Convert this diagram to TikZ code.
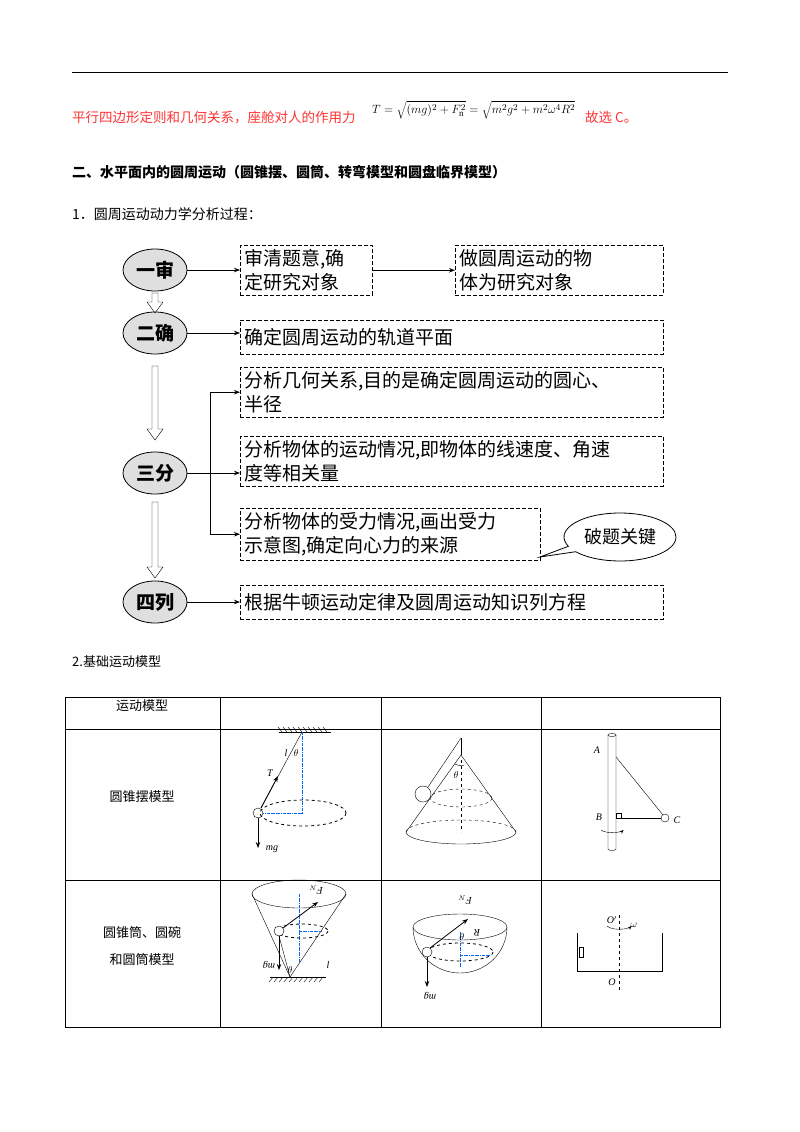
\documentclass[tikz,border=0pt]{standalone}
\usepackage{fontspec}
\setmainfont{Liberation Serif}
\newfontfamily\cjk{Noto Sans CJK SC}
\usetikzlibrary{arrows.meta,shapes.geometric,shapes.callouts}
\begin{document}
\begin{tikzpicture}[x=1pt,y=-1pt,
 dbox/.style={draw,dashed,thick,dash pattern=on 4pt off 2pt,align=left,anchor=north west,inner sep=4pt,font=\cjk\fontsize{19}{24}\selectfont,text width=#1},
 oval/.style={draw,thick,ellipse,fill=gray!25,minimum width=64,minimum height=42,font=\cjk\bfseries\fontsize{19}{22}\selectfont},
 arr/.style={-{Stealth[length=6pt]},thick},
 tt/.style={font=\cjk\fontsize{13}{15}\selectfont},
 ml/.style={font=\itshape\fontsize{10}{12}\selectfont},
 blu/.style={blue!60!cyan,densely dashdotted,thin}]
\useasboundingbox (0,0) rectangle (800,1132);
\draw[thick] (72,72) -- (728,72);
\node[anchor=west,text=red!80,font=\cjk\fontsize{13.5}{15}\selectfont,inner sep=0pt] (t1) at (72,117) {平行四边形定则和几何关系，座舱对人的作用力};
\node[anchor=west,font=\fontsize{13}{15}\selectfont,inner sep=0pt] (f) at (372,110) {$T=\sqrt{(mg)^2+F_{\rm n}^2}=\sqrt{m^2g^2+m^2\omega^4R^2}$};
\node[anchor=west,text=red!80,font=\cjk\fontsize{13.5}{15}\selectfont,inner sep=0pt] (t2) at (585,117) {故选 C。};
\node[anchor=west,font=\cjk\bfseries\fontsize{14}{16}\selectfont,inner sep=0pt] (h) at (72,172) {二、水平面内的圆周运动（圆锥摆、圆筒、转弯模型和圆盘临界模型）};
\node[anchor=west,font=\cjk\fontsize{14}{16}\selectfont,inner sep=0pt] (h1) at (72,214) {1．圆周运动动力学分析过程：};
% flowchart
\node[oval] (o1) at (155,270) {一审};
\node[oval] (o2) at (155,333) {二确};
\node[oval] (o3) at (155,473) {三分};
\node[oval] (o4) at (155,602) {四列};
\node[dbox=124] (b1) at (240,245) {审清题意,确\\定研究对象};
\node[dbox=200] (b2) at (455,245) {做圆周运动的物\\体为研究对象};
\node[dbox=415,minimum height=34] (b3) at (240,320) {确定圆周运动的轨道平面};
\node[dbox=415] (b4) at (240,367) {分析几何关系,目的是确定圆周运动的圆心、\\半径};
\node[dbox=415] (b5) at (240,436) {分析物体的运动情况,即物体的线速度、角速\\度等相关量};
\node[dbox=292] (b6) at (240,508) {分析物体的受力情况,画出受力\\示意图,确定向心力的来源};
\node[dbox=415,minimum height=34] (b7) at (240,585) {根据牛顿运动定律及圆周运动知识列方程};
\draw[arr] (o1) -- (o1 -| b1.west);
\draw[arr] (b1.east) -- (b1.east -| b2.west);
\draw[arr] (o2) -- (o2 -| b3.west);
\draw[arr] (o4) -- (o4 -| b7.west);
\coordinate (j) at (210,473);
\draw[thick] (o3) -- (j);
\draw[arr] (j) |- (b4.west);
\draw[arr] (j) -- (j -| b5.west);
\draw[arr] (j) |- (b6.west);
\foreach \a/\b in {293/313,366/440,502/578}
  \draw (152,\a) -- (152,\b-11) -- (147,\b-11) -- (155,\b) -- (163,\b-11) -- (158,\b-11) -- (158,\a) -- cycle;
\node[ellipse callout,draw,thick,fill=white,minimum width=112,minimum height=48,callout absolute pointer={(540,557)},font=\cjk\fontsize{18}{20}\selectfont] (c) at (620,537) {破题关键};
% table
\node[font=\cjk\fontsize{13}{15}\selectfont,anchor=west,inner sep=0pt] (h2) at (72,662) {2.基础运动模型};
\draw[thin] (65,697) rectangle (720,1027);
\foreach \x in {220,381,541} \draw[thin] (\x,697) -- (\x,1027);
\foreach \y in {729,880} \draw[thin] (65,\y) -- (720,\y);
\node[tt] (r0) at (142,706) {运动模型};
\node[tt] (r1) at (142,797) {圆锥摆模型};
\node[tt,align=center] (r2) at (142,946) {圆锥筒、圆碗\\[12pt]和圆筒模型};
% pendulum
\draw[thick] (279,732) -- (331,732);
\foreach \i in {0,...,9} \draw (282+5*\i,732) -- (278+5*\i,727);
\draw[blu] (302,732) -- (302,813) -- (263,813);
\draw[thick,dashed] (303,813) ellipse (43 and 13);
\draw (302,732) -- (261,808);
\draw[arr] (261,808) -- (278,776);
\draw (258,813) circle (5);
\draw[arr] (258,818) -- (258,848);
\node[ml] (ml1) at (272,849) {mg};
\node[ml] (l1) at (286,753) {l};
\node[ml] (th1) at (296,753) {$\theta$};
\node[ml] (T1) at (270,773) {T};
% cone
\draw (461,738) -- (461,755);
\draw (461,755) -- (406,832);
\draw (461,755) -- (516,832);
\draw (406,832) arc (180:0:55 and 12);
\draw[dashed] (406,832) arc (180:360:55 and 12);
\draw[dashed] (461,760) -- (461,832);
\draw[dashed] (461,798) ellipse (31 and 9);
\draw (461,738) -- (428,787);
\draw[fill=white] (423,794) circle (8);
\draw (455,764) arc (-235:-290:10);
\node[ml] (th2) at (456,775) {$\theta$};
% pole
\draw (608,735) -- (608,849) arc (180:0:4 and 1.5) -- (616,735);
\draw (612,735) ellipse (4 and 1.5);
\draw (616,757) -- (663,815);
\draw (616,818) -- (661,818);
\draw (616,813) rectangle (621,818);
\draw (665,818) circle (4);
\node[ml] (A) at (597,750) {A};
\node[ml] (B) at (599,817) {B};
\node[ml] (C) at (677,820) {C};
\draw[-{Stealth[length=4pt]}] (601,830) arc (-200:-340:12 and 4);
% cone cup
\draw (299,894) ellipse (47 and 14);
\draw (252,894) -- (290,977);
\draw (346,894) -- (290,977);
\draw[blu] (299,894) -- (299,962);
\draw[blu] (299,931) -- (322,931);
\draw[dashed,thick] (302,931) ellipse (26 and 7);
\draw[thick] (270,977) -- (326,977);
\foreach \i in {0,...,10} \draw (273+5*\i,977) -- (269+5*\i,982);
\draw (279,936) -- (290,977);
\draw[fill=white] (279,931) circle (5);
\draw[arr] (283,928) -- (318,902);
\draw[arr] (279,936) -- (279,970);
\node[ml,rotate=180] (mg2) at (269,965) {mg};
\node[ml,rotate=180] (FN) at (316,890) {F$_N$};
\node[ml] (th3) at (290,970) {$\theta$};
\node[ml] (l2) at (328,965) {l};
% bowl
\draw (413,927) arc (180:0:47 and 46);
\draw (460,927) ellipse (47 and 13);
\draw[blu] (460,932) -- (460,968);
\draw[blu] (460,955) -- (490,955);
\draw[dashed,thick] (460,952) ellipse (33 and 9);
\draw[fill=white] (427,952) circle (5);
\draw[arr] (430,948) -- (468,919);
\draw[arr] (427,957) -- (427,987);
\node[ml,rotate=180] (mg3) at (430,996) {mg};
\node[ml,rotate=180] (FN2) at (465,900) {F$_N$};
\node[ml,rotate=180] (R) at (477,933) {R};
\node[ml,rotate=180] (th4) at (462,937) {$\theta$};
% container
\draw (577,933) -- (577,971) -- (662,971) -- (662,933);
\draw (579,947) rectangle (583,957);
\draw[dashed] (619,915) -- (619,990);
\node[ml] (O1) at (612,920) {O$'$};
\node[ml] (O2) at (612,982) {O};
\node[ml] (w) at (634,925) {$\omega$};
\draw[-{Stealth[length=4pt]}] (607,926) arc (-200:-340:13 and 5);
\end{tikzpicture}
\end{document}
